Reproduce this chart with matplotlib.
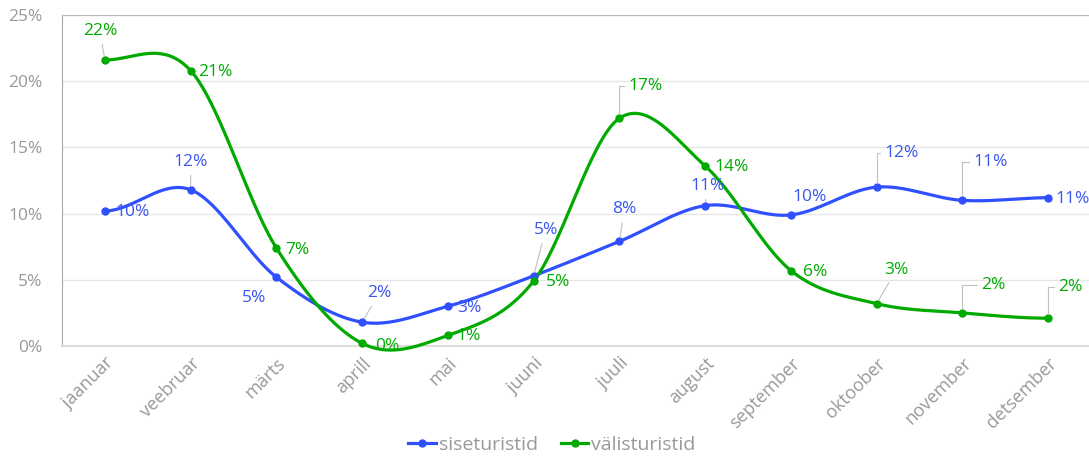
import numpy as np
import matplotlib
matplotlib.use("Agg")
import matplotlib.pyplot as plt
from matplotlib.lines import Line2D

months = ["jaanuar", "veebruar", "märts", "aprill", "mai", "juuni", "juuli",
          "august", "september", "oktoober", "november", "detsember"]
siseturistid = [10.2, 11.8, 5.2, 1.8, 3.0, 5.3, 7.9, 10.6, 9.9, 12.0, 11.0, 11.2]
valisturistid = [21.6, 20.8, 7.4, 0.2, 0.8, 4.9, 17.2, 13.6, 5.7, 3.2, 2.5, 2.1]
series_names = ["siseturistid", "välisturistid"]
yticks = [0, 5, 10, 15, 20, 25]

BLUE = "#3050ff"
BLUE_TXT = "#3a55f0"
GREEN = "#00aa00"
GRAY = "#999999"

plt.rcParams['font.family'] = ['Open Sans', 'DejaVu Sans']

# label placement (pixel offsets, y up) and connector type
blue_lab = [(28, -1, None), (0, 28, 'line'), (-22, -21, None), (17, 29, 'line'),
            (22, -2, None), (12, 46, 'line'), (5, 32, 'line'), (2, 20, 'line'),
            (19, 18, None), (25, 34, 'elbow'), (28, 38, 'elbow'), (24, -1, None)]
green_lab = [(-5, 29, 'line'), (25, -1, None), (21, -2, None), (25, -3, None),
             (21, -1, None), (24, -1, None), (26, 32, 'elbow'), (26, -1, None),
             (24, -1, None), (20, 34, 'line'), (31, 28, 'elbow'), (22, 31, 'elbow')]


def smooth(y, n=40):
    y = np.asarray(y, float)
    N = len(y)
    m = np.zeros(N)
    m[1:-1] = (y[2:] - y[:-2]) / 2.0
    xs, ys = [], []
    for i in range(N - 1):
        t = np.linspace(0, 1, n, endpoint=(i == N - 2))
        h00 = 2*t**3 - 3*t**2 + 1
        h10 = t**3 - 2*t**2 + t
        h01 = -2*t**3 + 3*t**2
        h11 = t**3 - t**2
        ys.append(h00*y[i] + h10*m[i] + h01*y[i+1] + h11*m[i+1])
        xs.append(i + t)
    return np.concatenate(xs), np.concatenate(ys)


fig = plt.figure(figsize=(10.89, 4.57), dpi=100)
ax = fig.add_axes([62/1089, 1-346/457, 1029/1089, 331/457])
x = np.arange(len(months))

for vals, col, tcol, labs in [(siseturistid, BLUE, BLUE_TXT, blue_lab),
                              (valisturistid, GREEN, GREEN, green_lab)]:
    sx, sy = smooth(vals)
    ax.plot(sx, sy, color=col, lw=2.3, solid_capstyle='round', zorder=3, clip_on=False)
    ax.plot(x, vals, 'o', color=col, ms=5, zorder=4, clip_on=False)
    for xi, v, (dx, dy, kind) in zip(x, vals, labs):
        txt = f"{round(v):.0f}%"
        kw = dict(xytext=(dx, dy), textcoords='offset pixels', ha='center',
                  va='center', color=tcol, fontsize=12.5, zorder=5)
        if kind == 'line':
            kw['arrowprops'] = dict(arrowstyle='-', color='#c0c0c0', lw=0.8,
                                    shrinkA=2, shrinkB=3)
        elif kind == 'elbow':
            kw['arrowprops'] = dict(arrowstyle='-', color='#c0c0c0', lw=0.8,
                                    shrinkA=1, shrinkB=3, relpos=(0, 0.5),
                                    connectionstyle="angle,angleA=0,angleB=90,rad=0")
        ax.annotate(txt, (xi, v), **kw)

ax.set_xlim(-0.5, 11.5)
ax.set_ylim(0, 25)
ax.set_yticks(yticks)
ax.set_yticklabels([f"{t}%" for t in yticks])
ax.set_xticks(x)
ax.set_xticklabels(months, rotation=45, ha='right', rotation_mode='anchor')
ax.tick_params(axis='both', colors=GRAY, labelsize=12.5, length=0)
ax.tick_params(axis='x', labelsize=13, pad=6)
ax.tick_params(axis='y', pad=14)
ax.grid(axis='y', color='#e6e6e6', lw=1)
ax.set_axisbelow(True)
ax.spines['right'].set_visible(False)
ax.spines['top'].set_color('#bbbbbb')
ax.spines['left'].set_color('#aaaaaa')
ax.spines['bottom'].set_color('#dddddd')
ax.spines['bottom'].set_linewidth(1.5)

handles = [Line2D([0], [0], color=BLUE, lw=2.3, marker='o', ms=5),
           Line2D([0], [0], color=GREEN, lw=2.3, marker='o', ms=5)]
fig.legend(handles, series_names, loc='center', bbox_to_anchor=(552/1089, 1-445/457),
           ncol=2, frameon=False, fontsize=14, labelcolor=GRAY, handlelength=1.4,
           handletextpad=0.15, columnspacing=1.2)

fig.savefig("out.png", dpi=100)
